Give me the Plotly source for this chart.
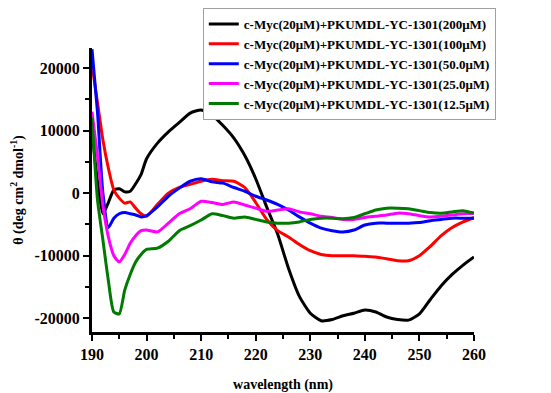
import plotly.graph_objects as go

wavelength = [190, 191, 192, 193, 194, 195, 196, 197, 198, 199, 200, 202, 204, 206, 208, 210,
              212, 214, 216, 218, 220, 222, 224, 226, 228, 230, 232, 234, 236, 238, 240, 242,
              244, 246, 248, 250, 252, 254, 256, 258, 260]

theta_200 = [10000, 2000, -3300, -1500, 500, 700, 200, 300, 1500, 3000, 5500, 8000, 9800, 11300,
             12800, 13300, 12500, 10800, 8800, 6000, 2300, -2200, -6500, -12000, -16500, -19200,
             -20400, -20200, -19600, -19200, -18700, -19000, -19800, -20200, -20300, -19300,
             -17000, -14800, -13000, -11500, -10200]
theta_100 = [20500, 14500, 8500, 4000, 500, -800, -1600, -1400, -2400, -3300, -3700, -1800, 0,
             900, 1400, 1900, 2200, 2000, 1900, 900, -1500, -4200, -6000, -7000, -8200, -9200,
             -9800, -10000, -10000, -10000, -10100, -10200, -10500, -10800, -10800, -10000,
             -8500, -6800, -5500, -4600, -3900]
theta_50 = [23000, 13000, 0, -5500, -4000, -3300, -3100, -3300, -3500, -3800, -3600, -2200, -500,
            800, 1900, 2300, 1800, 1600, 900, 300, -500, -1100, -1800, -2700, -3800, -4800, -5600,
            -6000, -6200, -5900, -5100, -4800, -4800, -4800, -4800, -4700, -4400, -4200, -4000,
            -4000, -4000]
theta_25 = [13000, 6000, -2000, -7000, -10000, -11000, -9800, -8000, -6800, -6000, -5900, -6200,
            -4800, -3300, -2500, -1300, -1500, -1800, -1400, -1900, -2400, -2900, -2700, -2500,
            -3000, -3300, -3700, -3900, -4200, -4200, -3900, -3700, -3500, -3200, -3300, -3600,
            -3800, -3700, -3500, -3300, -3200]
theta_12_5 = [12000, -1000, -7500, -14000, -19000, -19300, -15500, -13000, -11000, -9800, -9000,
              -8800, -7700, -6000, -5200, -4300, -3300, -3600, -4000, -3800, -4200, -4600, -4800,
              -4800, -4600, -4200, -4000, -4000, -4100, -3900, -3300, -2700, -2400, -2400, -2500,
              -2800, -3100, -3200, -3000, -2800, -3200]

names = ["c-Myc(20μM)+PKUMDL-YC-1301(200μM)",
         "c-Myc(20μM)+PKUMDL-YC-1301(100μM)",
         "c-Myc(20μM)+PKUMDL-YC-1301(50.0μM)",
         "c-Myc(20μM)+PKUMDL-YC-1301(25.0μM)",
         "c-Myc(20μM)+PKUMDL-YC-1301(12.5μM)"]
colors = ["#000000", "#ff0000", "#0000ff", "#ff00ff", "#007a00"]
series = [theta_200, theta_100, theta_50, theta_25, theta_12_5]

FONT = "Liberation Serif, Times New Roman, serif"

fig = go.Figure()
for name, col, ys in zip(names, colors, series):
    fig.add_trace(go.Scatter(x=wavelength, y=ys, mode="lines", name=name,
                             line=dict(color=col, width=3, shape="spline", smoothing=0.6)))

fig.update_layout(
    width=551, height=393,
    margin=dict(l=92, r=77, t=48, b=61, autoexpand=False),
    paper_bgcolor="white", plot_bgcolor="white",
    font=dict(family=FONT, size=14, color="black", weight="bold"),
    showlegend=True,
    legend=dict(x=0.29, y=1.141, xanchor="left", yanchor="top",
                bordercolor="#a0a0a0", borderwidth=1, bgcolor="white",
                font=dict(family=FONT, size=13, color="black", weight="bold"),
                tracegroupgap=0, itemwidth=30),
    xaxis=dict(range=[190, 260], tickvals=[190, 200, 210, 220, 230, 240, 250, 260],
               showgrid=False, zeroline=False, showline=True, linecolor="black", linewidth=3,
               ticks="outside", ticklen=6, tickwidth=2, tickcolor="black",
               minor=dict(tickvals=[195, 205, 215, 225, 235, 245, 255], ticks="outside",
                          ticklen=4, tickwidth=2, tickcolor="black"),
               tickfont=dict(family=FONT, size=16, weight="bold"),
               title=dict(text="wavelength (nm)", standoff=22,
                          font=dict(family=FONT, size=14, weight="bold"))),
    yaxis=dict(range=[-22200, 23200], tickvals=[-20000, -10000, 0, 10000, 20000],
               ticktext=["-20000", "-10000", "0", "10000", "20000"],
               showgrid=False, zeroline=False, showline=True, linecolor="black", linewidth=3,
               ticks="outside", ticklen=6, tickwidth=2, tickcolor="black",
               minor=dict(tickvals=[-15000, -5000, 5000, 15000], ticks="outside",
                          ticklen=4, tickwidth=2, tickcolor="black"),
               tickfont=dict(family=FONT, size=16, weight="bold"),
               title=dict(text="θ (deg cm<sup>2</sup> dmol<sup>-1</sup>)", standoff=8,
                          font=dict(family=FONT, size=14, weight="bold"))),
)

fig.write_html("out.html")
